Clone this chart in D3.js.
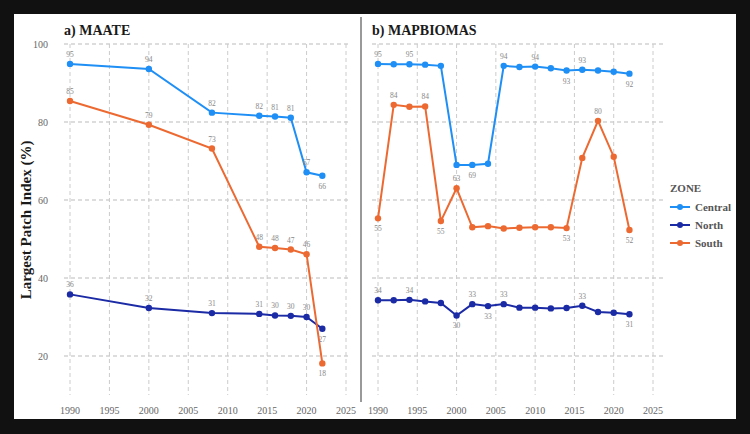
<!DOCTYPE html>
<html>
<head>
<meta charset="utf-8">
<script src="https://cdn.jsdelivr.net/npm/d3@7"></script>
<style>
  body { margin: 0; background: #111; }
  svg { display: block; font-family: "Liberation Serif", "DejaVu Serif", serif; }
</style>
</head>
<body>
<svg id="chart" width="750" height="434"></svg>
<script>
// MAATE panel
var maateYears = [1990, 2000, 2008, 2014, 2016, 2018, 2020, 2022];
var maateCentral = [94.9, 93.6, 82.4, 81.6, 81.4, 81.1, 67.1, 66.2];
var maateNorth = [35.8, 32.3, 31.0, 30.8, 30.4, 30.3, 30.0, 27.0];
var maateSouth = [85.4, 79.3, 73.2, 48.0, 47.7, 47.3, 46.1, 18.1];

// MAPBIOMAS panel
var mapYears = [1990, 1992, 1994, 1996, 1998, 2000, 2002, 2004, 2006, 2008, 2010, 2012, 2014, 2016, 2018, 2020, 2022];
var mapCentral = [94.9, 94.8, 94.8, 94.7, 94.4, 69.0, 69.0, 69.3, 94.4, 94.1, 94.2, 93.8, 93.2, 93.4, 93.2, 92.9, 92.4];
var mapNorth = [34.3, 34.3, 34.4, 34.0, 33.6, 30.4, 33.3, 32.8, 33.3, 32.4, 32.4, 32.2, 32.3, 32.9, 31.3, 31.1, 30.7];
var mapSouth = [55.3, 84.4, 83.9, 84.0, 54.6, 63.0, 53.0, 53.3, 52.7, 52.9, 53.0, 53.0, 52.8, 70.8, 80.3, 71.1, 52.3];

// which points get a value label: [zone, year, side] (-1 above, 1 below)
var maateLabels = [
  ["Central",1990,-1],["Central",2000,-1],["Central",2008,-1],["Central",2014,-1],["Central",2016,-1],["Central",2018,-1],["Central",2020,-1],["Central",2022,1],
  ["South",1990,-1],["South",2000,-1],["South",2008,-1],["South",2014,-1],["South",2016,-1],["South",2018,-1],["South",2020,-1],["South",2022,1],
  ["North",1990,-1],["North",2000,-1],["North",2008,-1],["North",2014,-1],["North",2016,-1],["North",2018,-1],["North",2020,-1],["North",2022,1]
];
var mapLabels = [
  ["Central",1990,-1],["Central",1994,-1],["Central",2002,1],["Central",2006,-1],["Central",2010,-1],["Central",2014,1],["Central",2016,-1],["Central",2022,1],
  ["South",1990,1],["South",1992,-1],["South",1996,-1],["South",1998,1],["South",2000,-1],["South",2014,1],["South",2018,-1],["South",2022,1],
  ["North",1990,-1],["North",1994,-1],["North",2000,1],["North",2002,-1],["North",2004,1],["North",2006,-1],["North",2016,-1],["North",2022,1]
];

var zones = ["Central", "North", "South"];
var colors = {Central: "#1f8ff5", North: "#1b2aa5", South: "#ec6a32"};
var xTicks = [1990, 1995, 2000, 2005, 2010, 2015, 2020, 2025];
var yTicks = [20, 40, 60, 80, 100];

var svg = d3.select("#chart");

svg.append("rect")
  .attr("x", 14).attr("y", 14)
  .attr("width", 722).attr("height", 405)
  .attr("fill", "#fff");

var y = d3.scaleLinear().domain([10, 100]).range([395, 44]);

function drawPanel(opts) {
  var x = d3.scaleLinear().domain([1990, 2025]).range(opts.xr);
  var g = svg.append("g");

  // grid
  g.selectAll(".hg").data(yTicks).enter().append("line")
    .attr("x1", opts.gx[0]).attr("x2", opts.gx[1])
    .attr("y1", d => y(d)).attr("y2", d => y(d))
    .attr("stroke", "#bbb").attr("stroke-width", 1)
    .attr("stroke-dasharray", "4,3");
  g.selectAll(".vg").data(xTicks).enter().append("line")
    .attr("x1", d => x(d)).attr("x2", d => x(d))
    .attr("y1", 44).attr("y2", 395)
    .attr("stroke", "#ccc").attr("stroke-width", 1)
    .attr("stroke-dasharray", "4,3");

  // x axis labels
  g.selectAll(".xl").data(xTicks).enter().append("text")
    .attr("x", d => x(d)).attr("y", 414)
    .attr("text-anchor", "middle")
    .attr("font-size", 10).attr("fill", "#666")
    .text(d => d);

  if (opts.yLabels) {
    g.selectAll(".yl").data(yTicks).enter().append("text")
      .attr("x", 48).attr("y", d => y(d) + 3.5)
      .attr("text-anchor", "end")
      .attr("font-size", 10).attr("fill", "#666")
      .text(d => d);
  }

  g.append("text")
    .attr("x", opts.gx[0]).attr("y", 35)
    .attr("font-size", 14).attr("font-weight", "bold").attr("fill", "#1a1a1a")
    .text(opts.title);

  var line = d3.line().x(d => x(d[0])).y(d => y(d[1]));

  zones.forEach(function(z) {
    var pts = opts.years.map((yr, i) => [yr, opts.series[z][i]]);
    g.append("path")
      .datum(pts)
      .attr("d", line)
      .attr("fill", "none")
      .attr("stroke", colors[z])
      .attr("stroke-width", 2);
    g.selectAll(".pt" + z).data(pts).enter().append("circle")
      .attr("cx", d => x(d[0])).attr("cy", d => y(d[1]))
      .attr("r", 3.2)
      .attr("fill", colors[z]);
  });

  opts.labels.forEach(function(l) {
    var i = opts.years.indexOf(l[1]);
    var v = opts.series[l[0]][i];
    g.append("text")
      .attr("x", x(l[1]))
      .attr("y", y(v) + (l[2] < 0 ? -7 : 13))
      .attr("text-anchor", "middle")
      .attr("font-size", 7.5).attr("fill", "#888")
      .text(Math.round(v));
  });
}

drawPanel({
  title: "a) MAATE",
  xr: [70, 346], gx: [64, 350],
  years: maateYears,
  series: {Central: maateCentral, North: maateNorth, South: maateSouth},
  labels: maateLabels,
  yLabels: true
});

drawPanel({
  title: "b) MAPBIOMAS",
  xr: [378, 653], gx: [372, 663],
  years: mapYears,
  series: {Central: mapCentral, North: mapNorth, South: mapSouth},
  labels: mapLabels,
  yLabels: false
});

// separator
svg.append("line")
  .attr("x1", 361).attr("x2", 361)
  .attr("y1", 17).attr("y2", 402)
  .attr("stroke", "#555").attr("stroke-width", 1.2);

// y axis title
svg.append("text")
  .attr("transform", "translate(31,220) rotate(-90)")
  .attr("text-anchor", "middle")
  .attr("font-size", 15).attr("font-weight", "bold").attr("fill", "#1a1a1a")
  .text("Largest Patch Index (%)");

// legend
var lg = svg.append("g").attr("transform", "translate(669,192)");
lg.append("text")
  .attr("x", 1).attr("y", 0)
  .attr("font-size", 11).attr("font-weight", "bold").attr("fill", "#555")
  .text("ZONE");
zones.forEach(function(z, i) {
  var row = lg.append("g").attr("transform", "translate(0," + (15 + i * 18) + ")");
  row.append("line").attr("x1", 1).attr("x2", 21).attr("y1", 0).attr("y2", 0)
    .attr("stroke", colors[z]).attr("stroke-width", 2);
  row.append("circle").attr("cx", 11).attr("cy", 0).attr("r", 3).attr("fill", colors[z]);
  row.append("text").attr("x", 26).attr("y", 4)
    .attr("font-size", 11).attr("font-weight", "bold").attr("fill", "#555")
    .text(z);
});
</script>
</body>
</html>
